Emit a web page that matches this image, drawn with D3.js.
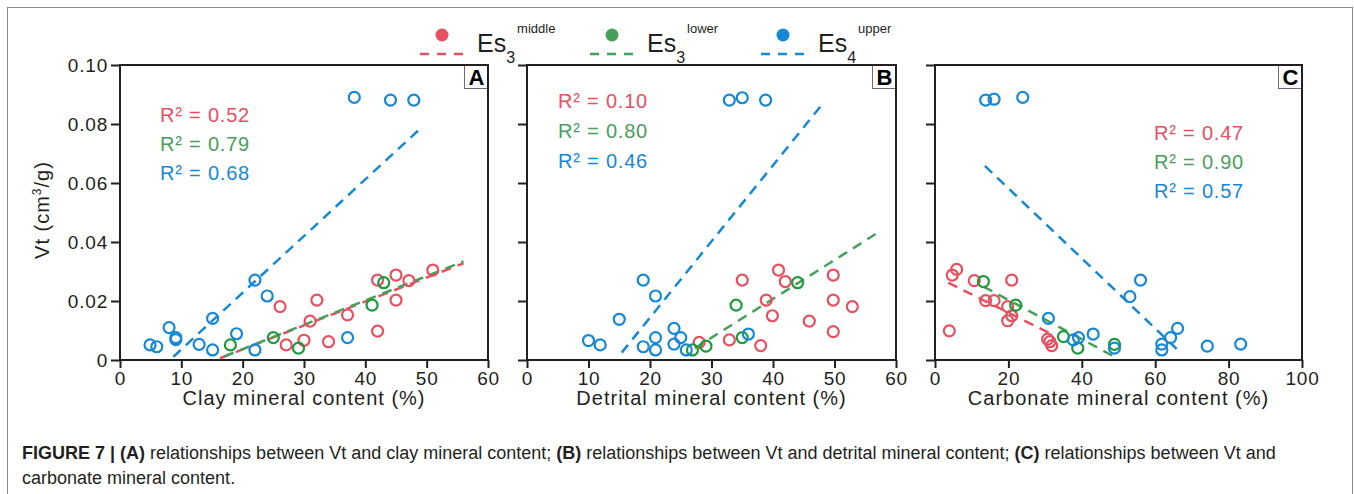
<!DOCTYPE html>
<html>
<head>
<meta charset="utf-8">
<script src="https://cdn.jsdelivr.net/npm/d3@7"></script>
<style>
  html, body { margin: 0; padding: 0; background: #fff; }
  svg { display: block; font-family: "Liberation Sans", Arial, sans-serif; }
</style>
</head>
<body>
<svg id="chart" width="1354" height="494"></svg>
<script>
// ---- data: [content %, Vt cm3/g] ----
const clayMiddle = [[26.1,0.0181],[32.1,0.0203],[31.0,0.0132],[30.0,0.0067],[27.1,0.0051],[34.0,0.0062],[37.1,0.0153],[42.0,0.0271],[42.0,0.0098],[45.0,0.0288],[45.0,0.0203],[47.1,0.0269],[51.0,0.0305]];
const clayLower  = [[18.0,0.0051],[25.0,0.0076],[29.1,0.0040],[41.1,0.0186],[43.0,0.0262]];
const clayUpper  = [[4.9,0.0051],[6.0,0.0045],[8.0,0.0110],[9.1,0.0076],[9.1,0.0069],[12.9,0.0053],[15.1,0.0034],[15.1,0.0141],[19.0,0.0089],[22.0,0.0271],[22.0,0.0034],[24.0,0.0217],[37.1,0.0076],[38.2,0.0890],[44.1,0.0881],[47.9,0.0881]];

const detMiddle = [[28.0,0.0060],[32.9,0.0068],[35.0,0.0271],[38.0,0.0049],[38.9,0.0203],[39.9,0.0150],[40.9,0.0305],[42.0,0.0266],[45.9,0.0132],[49.8,0.0288],[49.8,0.0203],[49.8,0.0096],[52.9,0.0181]];
const detLower  = [[26.9,0.0034],[29.1,0.0047],[34.0,0.0186],[35.0,0.0076],[44.0,0.0262]];
const detUpper  = [[10.0,0.0066],[11.9,0.0051],[15.0,0.0138],[18.9,0.0271],[18.9,0.0045],[20.9,0.0217],[20.9,0.0076],[20.9,0.0034],[23.9,0.0107],[23.9,0.0054],[25.0,0.0076],[25.9,0.0034],[32.9,0.0881],[35.0,0.0889],[36.0,0.0088],[38.8,0.0881]];

const carbMiddle = [[3.9,0.0099],[4.7,0.0288],[5.9,0.0307],[10.7,0.0269],[13.8,0.0201],[16.1,0.0201],[19.8,0.0181],[19.8,0.0133],[20.9,0.0150],[20.9,0.0271],[30.7,0.0071],[31.3,0.0062],[31.8,0.0049]];
const carbLower  = [[13.2,0.0266],[22.0,0.0186],[35.0,0.0079],[38.9,0.0040],[48.9,0.0053]];
const carbUpper  = [[13.8,0.0881],[16.1,0.0884],[23.9,0.0890],[30.9,0.0141],[37.7,0.0068],[39.1,0.0076],[43.1,0.0088],[48.9,0.0040],[53.1,0.0215],[56.0,0.0271],[61.8,0.0054],[61.8,0.0034],[64.2,0.0076],[66.1,0.0107],[74.2,0.0047],[83.3,0.0054]];

// ---- fitted trend lines (end points) ----
const clayFitMiddle = [[16.3,0.0006],[56.0,0.0328]];
const clayFitLower  = [[17.0,0.0012],[56.0,0.0334]];
const clayFitUpper  = [[8.7,0.0011],[49.3,0.0791]];
const detFitLower   = [[27.3,0.0040],[56.7,0.0427]];
const detFitUpper   = [[15.4,0.0025],[47.9,0.0864]];
const carbFitMiddle = [[3.6,0.0262],[32.2,0.0085]];
const carbFitLower  = [[13.2,0.0249],[48.9,0.0011]];
const carbFitUpper  = [[13.6,0.0658],[66.9,0.0025]];

// ---- R² labels ----
const r2Clay = ["0.52","0.79","0.68"];
const r2Det  = ["0.10","0.80","0.46"];
const r2Carb = ["0.47","0.90","0.57"];

// ---- axes ----
const yTicks = [0, 0.02, 0.04, 0.06, 0.08, 0.10];
const xTicks60 = [0, 10, 20, 30, 40, 50, 60];
const xTicks100 = [0, 20, 40, 60, 80, 100];
const legendNames = [["3","middle"],["3","lower"],["4","upper"]];

const colors = {
  middle: "#e6505f",
  lower: "#1e9a3c",
  lowerLine: "#45a05a",
  lowerText: "#4b9d5e",
  upper: "#1788d8"
};
const ink = "#231f20";

const svg = d3.select("#chart");

// figure frame
svg.append("rect").attr("x", 7.5).attr("y", 7.5).attr("width", 1345).attr("height", 500)
  .attr("fill", "none").attr("stroke", "#8a8a8a").attr("stroke-width", 1);

const panels = [
  { label: "A", x0: 120, x1: 488, domain: [0, 60], ticks: xTicks60, title: "Clay mineral content (%)",
    middle: clayMiddle, lower: clayLower, upper: clayUpper,
    fits: [["middle", clayFitMiddle], ["lower", clayFitLower], ["upper", clayFitUpper]],
    r2: r2Clay, r2x: 160, r2y: [122, 151, 180], yLabels: true },
  { label: "B", x0: 527, x1: 896, domain: [0, 60], ticks: xTicks60, title: "Detrital mineral content (%)",
    middle: detMiddle, lower: detLower, upper: detUpper,
    fits: [["lower", detFitLower], ["upper", detFitUpper]],
    r2: r2Det, r2x: 558, r2y: [108, 138, 168], yLabels: false },
  { label: "C", x0: 935, x1: 1302, domain: [0, 100], ticks: xTicks100, title: "Carbonate mineral content (%)",
    middle: carbMiddle, lower: carbLower, upper: carbUpper,
    fits: [["middle", carbFitMiddle], ["lower", carbFitLower], ["upper", carbFitUpper]],
    r2: r2Carb, r2x: 1154, r2y: [140, 169, 198], yLabels: false }
];

const yTop = 65, yBottom = 360;
const y = d3.scaleLinear().domain([0, 0.1]).range([yBottom, yTop]);

panels.forEach(p => {
  const x = d3.scaleLinear().domain(p.domain).range([p.x0, p.x1]);
  const g = svg.append("g");

  // x axis
  const xa = g.append("g").attr("transform", `translate(0,${yBottom})`)
    .call(d3.axisBottom(x).tickValues(p.ticks).tickSize(8).tickSizeOuter(0).tickPadding(4).tickFormat(d3.format("d")));
  xa.select(".domain").remove();
  xa.selectAll("line").attr("stroke", ink).attr("stroke-width", 2);
  xa.selectAll("text").attr("fill", ink).style("font-size", "19px").style("letter-spacing", "0.8px")
    .style("font-family", "Liberation Sans, Arial, sans-serif");

  // y axis
  const ya = g.append("g").attr("transform", `translate(${p.x0},0)`)
    .call(d3.axisLeft(y).tickValues(yTicks).tickSize(9).tickSizeOuter(0).tickPadding(3)
      .tickFormat(d => p.yLabels ? (d === 0 ? "0" : d.toFixed(2)) : ""));
  ya.select(".domain").remove();
  ya.selectAll("line").attr("stroke", ink).attr("stroke-width", 2);
  ya.selectAll("text").attr("fill", ink).style("font-size", "19px").style("letter-spacing", "0.8px")
    .style("font-family", "Liberation Sans, Arial, sans-serif");

  // panel tag
  g.append("rect").attr("x", p.x1 - 23.5).attr("y", yTop).attr("width", 23.5).attr("height", 23.5)
    .attr("fill", "#fff").attr("stroke", "#6d6d6d").attr("stroke-width", 1);
  g.append("text").attr("x", p.x1 - 11.5).attr("y", yTop + 20).attr("text-anchor", "middle")
    .attr("font-size", 22).attr("font-weight", "bold").attr("fill", "#000").text(p.label);

  // plot frame
  g.append("rect").attr("x", p.x0).attr("y", yTop).attr("width", p.x1 - p.x0).attr("height", yBottom - yTop)
    .attr("fill", "none").attr("stroke", ink).attr("stroke-width", 2);

  // x title
  g.append("text").attr("x", (p.x0 + p.x1) / 2).attr("y", 405).attr("text-anchor", "middle")
    .attr("font-size", 20).attr("letter-spacing", 1).attr("fill", ink).text(p.title);

  // trend lines
  const line = d3.line().x(d => x(d[0])).y(d => y(d[1]));
  p.fits.forEach(([k, pts]) => {
    g.append("path").attr("d", line(pts)).attr("fill", "none")
      .attr("stroke", k === "lower" ? colors.lowerLine : colors[k])
      .attr("stroke-width", 2.5).attr("stroke-dasharray", "10,7");
  });

  // points
  ["middle", "lower", "upper"].forEach(k => {
    g.selectAll(null).data(p[k]).join("circle")
      .attr("cx", d => x(d[0])).attr("cy", d => y(d[1])).attr("r", 5.5)
      .attr("fill", "none").attr("stroke", colors[k]).attr("stroke-width", 2.2);
  });

  // R² annotations
  const r2c = [colors.middle, colors.lowerText, colors.upper];
  p.r2.forEach((v, i) => {
    g.append("text").attr("x", p.r2x).attr("y", p.r2y[i]).attr("font-size", 20).attr("letter-spacing", 0.8)
      .attr("fill", r2c[i]).text(`R² = ${v}`);
  });
});

// y axis title
svg.append("text").attr("transform", "translate(49,210) rotate(-90)").attr("text-anchor", "middle")
  .attr("font-size", 20).attr("letter-spacing", 1).attr("fill", ink)
  .call(t => {
    t.append("tspan").text("Vt (cm");
    t.append("tspan").attr("font-size", 12).attr("dy", -8).text("3");
    t.append("tspan").attr("dy", 8).text("/g)");
  });

// legend
const legendX = [442, 612, 783];
const legendCol = [colors.middle, colors.lowerLine, colors.upper];
legendNames.forEach((nm, i) => {
  const cx = legendX[i];
  const lg = svg.append("g");
  lg.append("circle").attr("cx", cx).attr("cy", 35).attr("r", 6.5).attr("fill", legendCol[i]);
  lg.append("line").attr("x1", cx - 22).attr("x2", cx + 22).attr("y1", 54).attr("y2", 54)
    .attr("stroke", legendCol[i]).attr("stroke-width", 2.5).attr("stroke-dasharray", "9,8");
  const t = lg.append("text").attr("x", cx + 35).attr("y", 52).attr("font-size", 25).attr("fill", ink);
  t.append("tspan").text("Es");
  t.append("tspan").attr("font-size", 16).attr("dy", 11).text(nm[0]);
  t.append("tspan").attr("font-size", 13).attr("dx", 2).attr("dy", -30).text(nm[1]);
});

// caption
const cap = svg.append("g").attr("fill", ink).attr("font-size", 18);
const l1 = cap.append("text").attr("x", 22).attr("y", 459);
[["FIGURE 7 | ", true], ["(A)", true], [" relationships between Vt and clay mineral content; ", false],
 ["(B)", true], [" relationships between Vt and detrital mineral content; ", false],
 ["(C)", true], [" relationships between Vt and", false]].forEach(([s, b]) => {
  l1.append("tspan").attr("font-weight", b ? "bold" : "normal").text(s);
});
cap.append("text").attr("x", 22).attr("y", 484).text("carbonate mineral content.");
</script>
</body>
</html>
